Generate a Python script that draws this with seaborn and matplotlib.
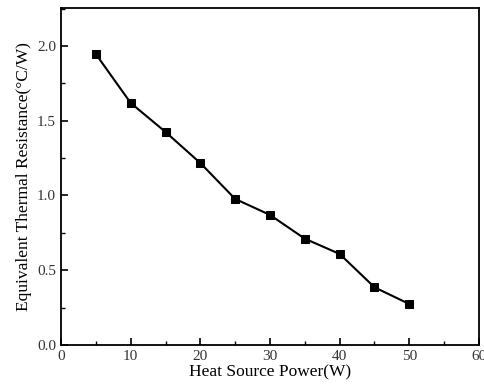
import matplotlib
matplotlib.use("Agg")
import matplotlib.pyplot as plt
import seaborn as sns
import pandas as pd
from matplotlib.ticker import MultipleLocator

power = [5, 10, 15, 20, 25, 30, 35, 40, 45, 50]
resistance = [1.946, 1.619, 1.425, 1.217, 0.977, 0.870, 0.711, 0.609, 0.386, 0.274]
x_label = "Heat Source Power(W)"
y_label = "Equivalent Thermal Resistance(°C/W)"

df = pd.DataFrame({"power": power, "resistance": resistance})

sns.set_theme(style="white")
plt.rcParams['font.family'] = ['Liberation Serif', 'DejaVu Serif']

fig = plt.figure(figsize=(4.85, 3.89), dpi=100)
ax = fig.add_axes([0.1258, 0.1131, 0.8618, 0.8663])
sns.lineplot(data=df, x="power", y="resistance", ax=ax, color="black",
             marker="s", markersize=6, markeredgecolor="black", linewidth=1.5)

ax.set_xlim(0, 60)
ax.set_ylim(0, 2.254)
ax.xaxis.set_major_locator(MultipleLocator(10))
ax.xaxis.set_minor_locator(MultipleLocator(5))
ax.yaxis.set_minor_locator(MultipleLocator(0.25))
ax.set_yticks([0, 0.5, 1.0, 1.5, 2.0])
ax.set_yticklabels(["0.0", "0.5", "1.0", "1.5", "2.0"])
ax.tick_params(which="both", direction="in", top=False, right=False, labelsize=11, labelcolor="#333333", colors="black")
ax.tick_params(which="major", length=5, width=1.2, left=True, bottom=True)
ax.tick_params(which="minor", length=3, width=1.0, left=True, bottom=True)
for s in ax.spines.values():
    s.set_color("black")
    s.set_linewidth(1.3)
ax.set_xlabel(x_label, fontsize=12.5, color="black", labelpad=1)
ax.set_ylabel(y_label, fontsize=12.5, color="black", labelpad=4)

fig.savefig("out.png", dpi=100)
